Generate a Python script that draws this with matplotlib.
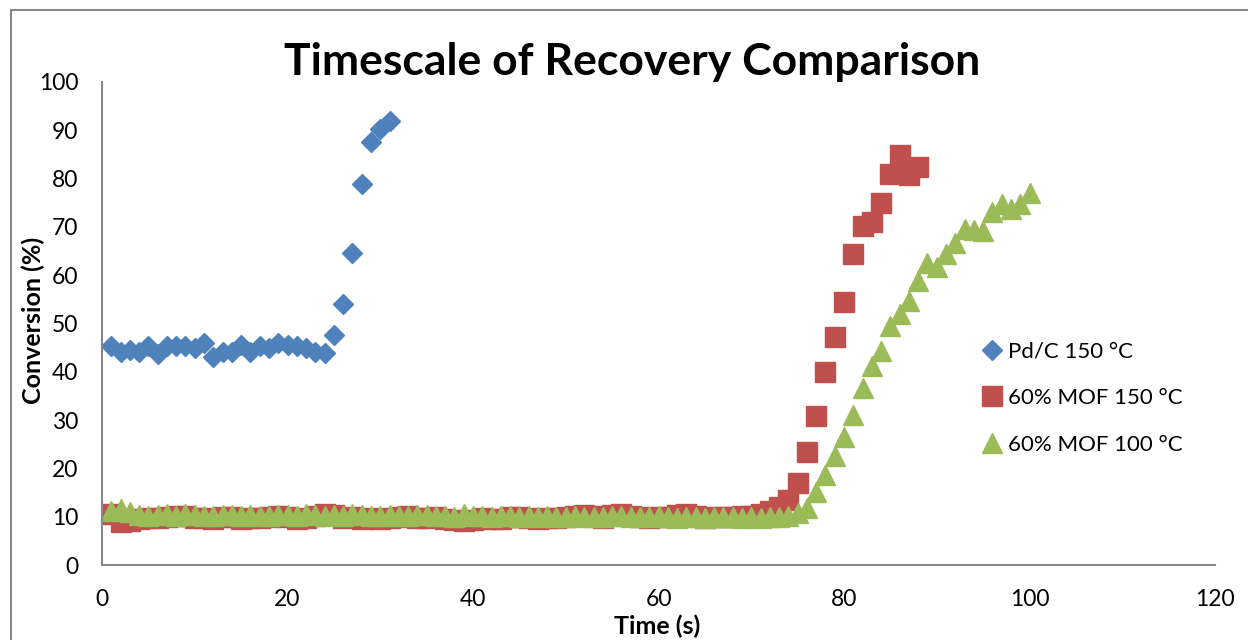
import numpy as np
import matplotlib.pyplot as plt
from matplotlib.patches import Rectangle

plt.rcParams["font.family"] = ["Lato", "DejaVu Sans"]

# conversion (%), one value per second starting at t = 1 s
pdc_150 = [45.3, 44.0, 44.6, 44.0, 45.4, 43.6, 45.4, 45.3, 45.3, 45.0,
           45.9, 43.1, 44.0, 44.0, 45.6, 44.2, 45.4, 45.0, 45.9, 45.6,
           45.4, 45.0, 44.2, 43.8, 47.6, 54.1, 64.5, 78.8, 87.5, 90.2,
           91.9]
mof_150 = [10.5, 9.0, 9.2, 9.6, 9.8, 9.7, 10.0, 10.1, 10.2, 9.8,
           9.7, 9.6, 9.9, 10.0, 9.5, 9.7, 9.8, 10.0, 10.1, 9.9,
           9.6, 9.8, 10.2, 10.5, 10.3, 9.8, 9.9, 9.6, 9.7, 9.5,
           9.8, 10.0, 10.2, 9.8, 9.7, 9.9, 9.6, 9.3, 9.2, 9.4,
           9.8, 9.6, 9.5, 9.9, 10.0, 9.8, 9.6, 9.7, 9.8, 9.9,
           10.2, 10.4, 10.1, 9.8, 10.3, 10.5, 10.2, 9.9, 9.8, 10.0,
           9.9, 10.4, 10.6, 10.2, 9.8, 9.9, 10.0, 9.9, 10.1, 10.2,
           10.6, 11.2, 12.1, 13.5, 16.9, 23.4, 30.8, 40.0, 47.2, 54.5,
           64.3, 70.2, 71.1, 75.0, 80.9, 84.9, 80.7, 82.3]
mof_100 = [11.2, 11.5, 11.0, 10.4, 10.1, 10.3, 10.6, 10.2, 10.6, 10.3,
           10.2, 10.1, 10.3, 10.4, 10.2, 10.3, 10.1, 10.2, 10.4, 10.3,
           10.1, 10.5, 10.3, 10.2, 10.4, 10.2, 10.5, 10.3, 10.1, 10.2,
           10.4, 10.1, 10.2, 10.4, 10.3, 10.1, 10.2, 10.0, 10.5, 10.1,
           10.2, 10.0, 10.1, 10.2, 10.0, 10.1, 9.9, 10.1, 9.9, 10.0,
           10.1, 9.9, 10.0, 9.9, 10.2, 10.1, 9.9, 10.0, 9.9, 10.1,
           10.0, 9.8, 10.0, 9.9, 9.8, 10.0, 9.9, 10.0, 9.8, 9.9,
           9.8, 9.9, 10.0, 10.2, 10.8, 11.8, 15.2, 18.7, 22.5, 26.6,
           31.1, 36.7, 41.1, 44.3, 49.4, 51.9, 54.6, 58.8, 62.6, 61.6,
           64.3, 66.7, 69.5, 69.4, 69.2, 73.1, 74.7, 73.7, 74.7, 77.1]

t_pdc = np.arange(1, len(pdc_150) + 1)
t_mof150 = np.arange(1, len(mof_150) + 1)
t_mof100 = np.arange(1, len(mof_100) + 1)

W, H = 1248, 640
fig = plt.figure(figsize=(W / 100, H / 100), dpi=100)
ax = fig.add_axes([102 / W, (H - 565) / H, (1215 - 102) / W, (565 - 82) / H])

ax.plot(t_pdc, pdc_150, ls="none", marker="D", ms=10, color="#4F81BD",
        label="Pd/C 150 °C")
ax.plot(t_mof150, mof_150, ls="none", marker="s", ms=14, color="#C0504D",
        label="60% MOF 150 °C")
ax.plot(t_mof100, mof_100, ls="none", marker="^", ms=14, color="#9BBB59",
        label="60% MOF 100 °C")

ax.set_xlim(0, 120)
ax.set_ylim(0, 100)
ax.set_xticks(range(0, 121, 20))
ax.set_yticks(range(0, 101, 10))
ax.tick_params(length=0, labelsize=16.5, pad=17)
for s in ["top", "right"]:
    ax.spines[s].set_visible(False)
for s in ["left", "bottom"]:
    ax.spines[s].set_color("#888888")
    ax.spines[s].set_linewidth(1.5)

fig.text(632 / W, 1 - 62 / H, "Timescale of Recovery Comparison",
         ha="center", va="center", fontsize=32, fontweight="bold")
fig.text(657 / W, 1 - 626 / H, "Time (s)", ha="center", va="center",
         fontsize=18, fontweight="bold")
fig.text(33 / W, 1 - 320 / H, "Conversion (%)", ha="center", va="center",
         rotation=90, fontsize=18, fontweight="bold")

ax.legend(loc="center left", bbox_to_anchor=(971 / W, 1 - 398 / H),
          bbox_transform=fig.transFigure, frameon=False, fontsize=16,
          handlelength=0.9, handletextpad=0.25, labelspacing=1.2,
          markerscale=1.0, borderpad=0)

# chart area border, cut off at the right and bottom
fig.add_artist(Rectangle((11 / W, -0.05), 1.2, (H - 10) / H + 0.05,
                         transform=fig.transFigure, fill=False,
                         ec="#888888", lw=1.5))

fig.savefig("out.png", dpi=100)
